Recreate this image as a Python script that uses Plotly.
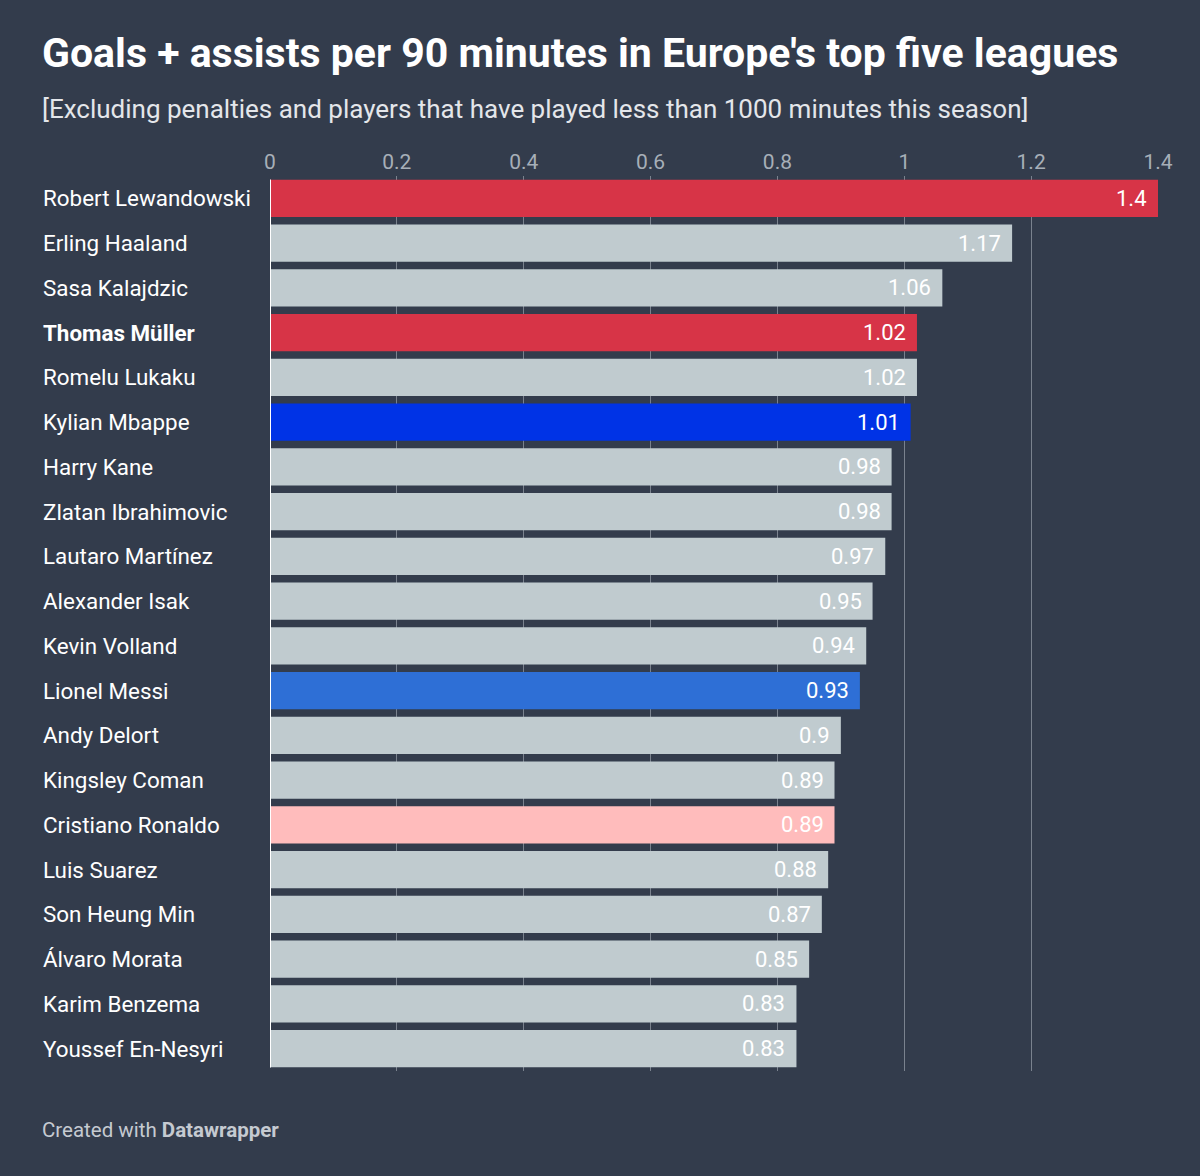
import plotly.graph_objects as go

# Data
players = [
    "Robert Lewandowski", "Erling Haaland", "Sasa Kalajdzic", "Thomas Müller",
    "Romelu Lukaku", "Kylian Mbappe", "Harry Kane", "Zlatan Ibrahimovic",
    "Lautaro Martínez", "Alexander Isak", "Kevin Volland", "Lionel Messi",
    "Andy Delort", "Kingsley Coman", "Cristiano Ronaldo", "Luis Suarez",
    "Son Heung Min", "Álvaro Morata", "Karim Benzema", "Youssef En-Nesyri",
]
values = [1.4, 1.17, 1.06, 1.02, 1.02, 1.01, 0.98, 0.98, 0.97, 0.95,
          0.94, 0.93, 0.9, 0.89, 0.89, 0.88, 0.87, 0.85, 0.83, 0.83]
value_labels = ["1.4", "1.17", "1.06", "1.02", "1.02", "1.01", "0.98", "0.98", "0.97", "0.95",
                "0.94", "0.93", "0.9", "0.89", "0.89", "0.88", "0.87", "0.85", "0.83", "0.83"]

highlight = {
    "Robert Lewandowski": "#d73447",
    "Thomas Müller": "#d73447",
    "Kylian Mbappe": "#0033e6",
    "Lionel Messi": "#2e6fd6",
    "Cristiano Ronaldo": "#ffbcbc",
}
bold_players = ["Thomas Müller"]

x_ticks = [0, 0.2, 0.4, 0.6, 0.8, 1, 1.2, 1.4]

title = "<b>Goals + assists per 90 minutes in Europe's top five leagues</b>"
subtitle = "[Excluding penalties and players that have played less than 1000 minutes this season]"
footer = "Created with <b>Datawrapper</b>"

BG = "#333c4c"
colors = [highlight.get(p, "#c0cbcf") for p in players]

# plot area in pixels: left 270, right 1158, top 176, bottom 1071
PW, PH = 888, 895
LEFT_X = -229 / PW

fig = go.Figure()
fig.add_trace(go.Bar(
    x=values, y=players, orientation="h",
    marker=dict(color=colors, line=dict(width=0)),
    hoverinfo="skip",
))

# value labels, right-aligned inside each bar
for p, v, t in zip(players, values, value_labels):
    fig.add_annotation(x=v, xref="x", y=p, yref="y", text=t,
                       showarrow=False, xanchor="right", yanchor="middle",
                       xshift=-9, font=dict(family="Roboto", size=22, color="white"))

# zero line
fig.add_shape(type="line", xref="x", yref="y", x0=0, x1=0,
              y0=-0.42, y1=len(players) - 0.58,
              line=dict(color="white", width=2), layer="above")

# left-aligned category labels
for p in players:
    label = f"<b>{p}</b>" if p in bold_players else p
    fig.add_annotation(x=LEFT_X, xref="paper", y=p, yref="y", text=label,
                       showarrow=False, xanchor="left", yanchor="middle",
                       font=dict(family="Roboto", size=22.4, color="white"))

fig.add_annotation(x=LEFT_X - 1 / PW, xref="paper", y=1 + (176 - 53) / PH, yref="paper",
                   text=title, showarrow=False, xanchor="left", yanchor="middle",
                   font=dict(family="Roboto", size=41, color="white"))
fig.add_annotation(x=LEFT_X - 1 / PW, xref="paper", y=1 + (176 - 109) / PH, yref="paper",
                   text=subtitle, showarrow=False, xanchor="left", yanchor="middle",
                   font=dict(family="Roboto", size=26, color="#e4e6ea"))
fig.add_annotation(x=LEFT_X - 1 / PW, xref="paper", y=-(1130 - 1071) / PH, yref="paper",
                   text=footer, showarrow=False, xanchor="left", yanchor="middle",
                   font=dict(family="Roboto", size=20.5, color="#c5cad1"))

fig.update_layout(
    width=1200, height=1176,
    paper_bgcolor=BG, plot_bgcolor=BG,
    margin=dict(l=270, r=42, t=176, b=105),
    showlegend=False, bargap=0.17,
    font=dict(family="Roboto"),
    xaxis=dict(range=[0, 1.4], side="top", tickvals=x_ticks,
               ticktext=[str(t) for t in x_ticks],
               tickfont=dict(family="Roboto", size=21, color="#a7afb8"),
               showgrid=True, gridcolor="#7a828e", gridwidth=1,
               zeroline=False, showline=False, ticks="", ticklabelstandoff=2,
               fixedrange=True),
    yaxis=dict(autorange="reversed", showticklabels=False, showgrid=False,
               zeroline=False, fixedrange=True),
)

fig.write_html("out.html", config={"displayModeBar": False},
               post_script="document.body.style.margin='0';document.body.style.background='%s';" % BG)
